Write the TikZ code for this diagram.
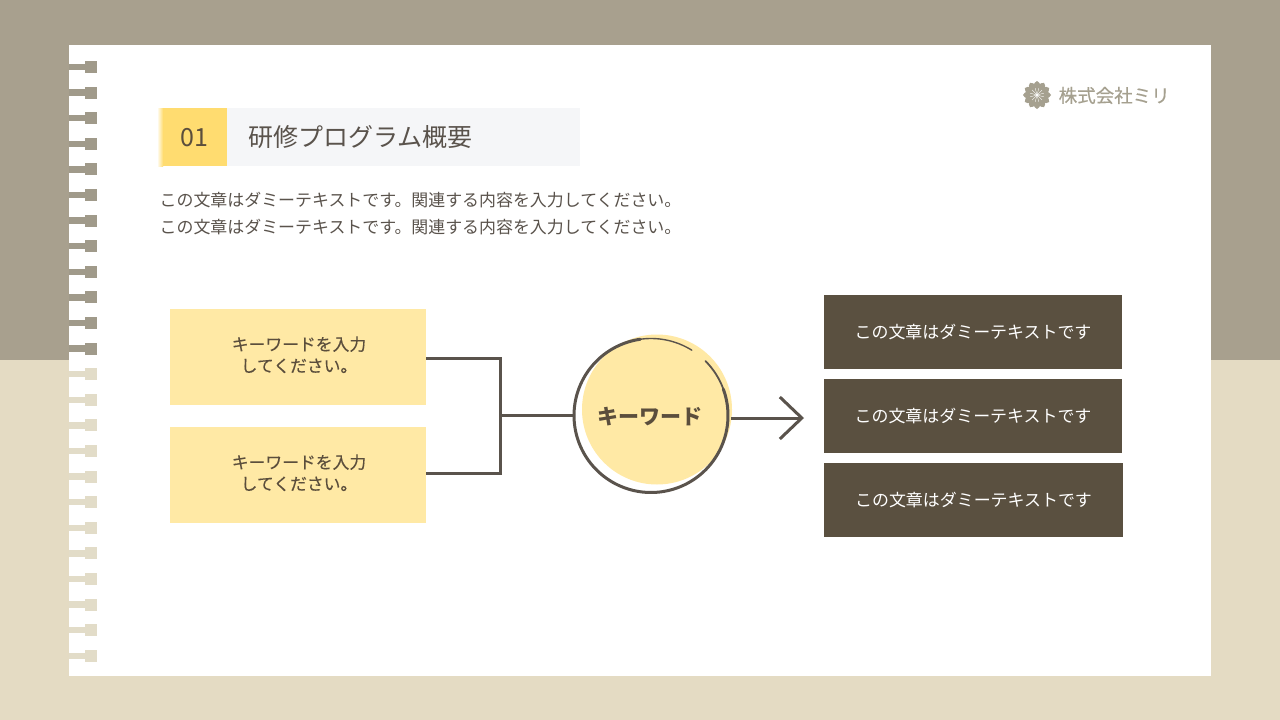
\documentclass[tikz,border=0pt]{standalone}
\usepackage{fontspec}
\setmainfont{Noto Sans CJK JP}
\usetikzlibrary{arrows.meta,calc}
\definecolor{bgtop}{HTML}{A8A08E}
\definecolor{bgbot}{HTML}{E4DBC3}
\definecolor{tabtop}{HTML}{A09A8A}
\definecolor{tabbot}{HTML}{E2DCC8}
\definecolor{numy}{HTML}{FFDC70}
\definecolor{softy}{HTML}{FFE9A5}
\definecolor{darkb}{HTML}{5A5040}
\definecolor{ink}{HTML}{5A534C}
\definecolor{inkb}{HTML}{5B4E3C}
\definecolor{titlebg}{HTML}{F5F6F8}
\definecolor{logoc}{HTML}{A5A08F}
\newcommand{\liftlines}[3]{\raisebox{#1}{\begin{tabular}{@{}c@{}}#2\\#3\end{tabular}}}
\tikzset{
 x=1pt,y=-1pt,
 softbox/.style={fill=softy,draw=none,minimum width=256pt,minimum height=96pt,inner sep=0pt,align=center,font=\fontsize{16.8}{21.5}\selectfont\addfontfeature{FakeBold=0.3},text=inkb},
 darkbox/.style={fill=darkb,draw=none,minimum width=298pt,minimum height=74pt,inner sep=0pt,align=center,font=\fontsize{16.95}{20}\selectfont,text=white},
 conn/.style={draw=ink,line width=3pt},
 ringline/.style={draw=ink,line cap=round},
 bodytext/.style={anchor=west,inner sep=0pt,font=\fontsize{16.93}{20}\selectfont,text=ink},
}
\begin{document}
\begin{tikzpicture}
\useasboundingbox (0,0) rectangle (1280,720);
% background
\fill[bgtop] (0,0) rectangle (1280,360);
\fill[bgbot] (0,360) rectangle (1280,720);
\fill[white] (69,45) rectangle (1211,676);
% spiral tabs
\foreach \i in {0,...,23}{
  \pgfmathsetmacro{\yy}{67+25.6*\i}
  \ifnum\i<12 \def\tc{tabtop}\else \def\tc{tabbot}\fi
  \fill[\tc] (69,\yy-3.2) rectangle (86,\yy+3.2);
  \fill[\tc] (85,\yy-6) rectangle (97,\yy+6);
}
% heading
\fill[titlebg] (227,108) rectangle (580,166);
\shade[left color=white,right color=numy] (157,108) rectangle (163,166);
\node[fill=numy,minimum width=64pt,minimum height=58pt,inner sep=0pt,anchor=north west,text=inkb,font=\fontsize{25}{30}\selectfont] (num) at (163,108) {\hspace{-2pt}01};
\node[anchor=west,inner sep=0pt,font=\fontsize{25}{30}\selectfont,text=ink] (title) at (248,137) {研修プログラム概要};
\node[bodytext] (line1) at (159.5,200.5) {この文章はダミーテキストです。関連する内容を入力してください。};
\node[bodytext] (line2) at (159.5,227.5) {この文章はダミーテキストです。関連する内容を入力してください。};
% logo
\foreach \a in {0,30,...,330}{
  \fill[logoc,rotate around={\a:(1037,95)}] (1037,87.5) ellipse (3.4pt and 6.5pt);
}
\foreach \a in {15,45,...,345}{
  \draw[white,line width=0.35pt,rotate around={\a:(1037,95)}] (1037,95) -- (1037,88);
}
\fill[white] (1037,95) circle (0.9pt);
\node[anchor=west,inner sep=0pt,font=\fontsize{18.5}{22}\selectfont\addfontfeature{FakeBold=0.25},text=logoc] (logo) at (1058.5,95.5) {株式会社ミリ};
% left boxes
\node[softbox] (a) at (298,357) {\hspace{2pt}\liftlines{2pt}{キーワードを入力}{してください。}};
\node[softbox] (b) at (298,475) {\hspace{2pt}\liftlines{2pt}{キーワードを入力}{してください。}};
% circle
\fill[softy] (657,409.5) circle (75pt);
\node[circle,draw=none,line width=3pt,minimum size=154pt,inner sep=0pt] (c) at (651,415.5) {};
\draw[ringline,line width=3pt] plot[domain=20:-262,samples=120] ({651+77*cos(\x)},{415.5-77*sin(\x)});
\draw[ringline,line width=1.4pt] plot[domain=98:58,samples=30] ({651+77*cos(\x)},{415.5-77*sin(\x)});
\draw[ringline,line width=1.8pt] plot[domain=45:20,samples=20] ({651+77*cos(\x)},{415.5-77*sin(\x)});
\node[inner sep=0pt,text=inkb,font=\fontsize{21}{25}\selectfont\bfseries] (ck) at (649.5,417) {キーワード};
% right boxes
\node[darkbox] (r1) at (973,332) {\raisebox{2pt}{この文章はダミーテキストです}};
\node[darkbox] (r2) at (973,416) {\raisebox{2pt}{この文章はダミーテキストです}};
\node[darkbox,minimum width=299pt] (r3) at (973.5,500) {\raisebox{2pt}{この文章はダミーテキストです}};
% connectors
\coordinate (j) at (500,415.5);
\coordinate (tip) at (804,418);
\draw[conn] ([yshift=-1pt]a.east) -| (j);
\draw[conn] ([yshift=2pt]b.east) -| (j);
\draw[conn] (j) -- (c.west);
\draw[conn,-{Straight Barb[length=22pt,width=42pt,line width=3pt]}] ([xshift=1.5pt,yshift=-2.5pt]c.east) -- (tip);
\end{tikzpicture}
\end{document}
